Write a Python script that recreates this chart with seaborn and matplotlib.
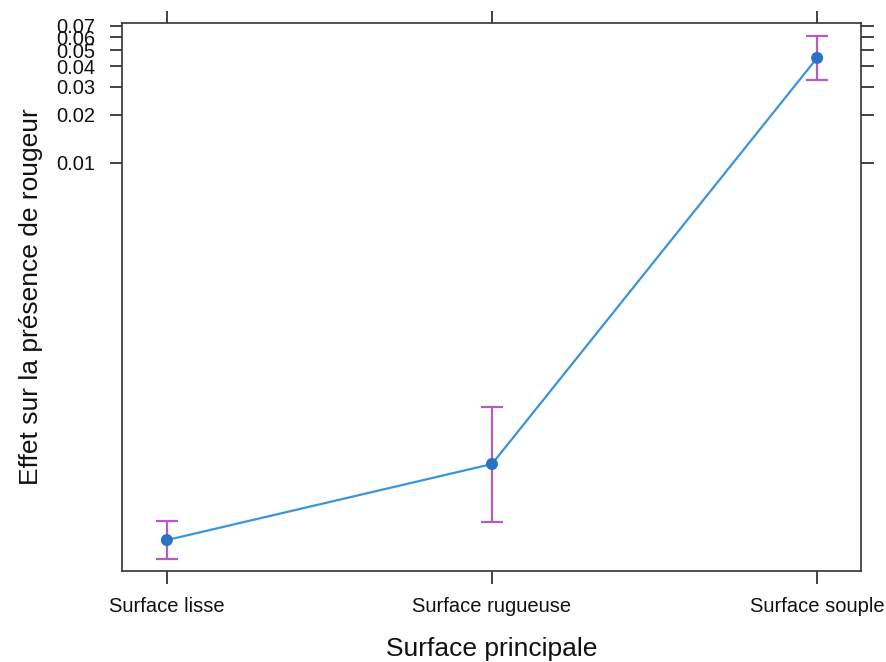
import matplotlib
matplotlib.use("Agg")
import matplotlib.pyplot as plt
import seaborn as sns
import pandas as pd
import numpy as np

surfaces = ["Surface lisse", "Surface rugueuse", "Surface souple"]
effet = [4.04e-5, 1.23e-4, 0.0449]
lower = [3.06e-5, 5.26e-5, 0.0329]
upper = [5.34e-5, 2.84e-4, 0.0609]
y_ticks = [0.01, 0.02, 0.03, 0.04, 0.05, 0.06, 0.07]
y_tick_labels = ["0.01", "0.02", "0.03", "0.04", "0.05", "0.06", "0.07"]

sns.set_style("ticks")
plt.rcParams["font.family"] = ["Liberation Sans", "DejaVu Sans"]

df = pd.DataFrame({"surface": surfaces, "effet": effet})
pos = np.arange(len(surfaces))

fig = plt.figure(figsize=(8.87, 6.62), dpi=100)
ax = fig.add_axes([0.1375, 0.1375, 0.8332, 0.8278])

# error bars first so the points sit on top
yerr = np.array([np.array(effet) - np.array(lower), np.array(upper) - np.array(effet)])
ax.errorbar(pos, effet, yerr=yerr, fmt="none",
            ecolor="#b45cc4", elinewidth=1.6, capsize=8, capthick=1.6, zorder=2)

sns.lineplot(data=df, x=pos, y="effet", color="#3b94dc",
             linewidth=1.6, ax=ax, zorder=3)
sns.scatterplot(data=df, x=pos, y="effet", color="#2a72c6",
                s=75, edgecolor="none", ax=ax, zorder=4)

ax.set_yscale("logit")
ax.set_ylim(2.57e-5, 0.0727)
ax.set_xlim(-0.138, 2.135)
ax.set_yticks(y_ticks)
ax.set_yticklabels(y_tick_labels)
ax.minorticks_off()
ax.set_xticks(range(len(surfaces)))
ax.set_xticklabels(surfaces)

ax.tick_params(axis="both", direction="out", length=9, width=1.2, color="#222222",
               top=True, right=True, labelsize=14.5, labelcolor="#111111")
ax.tick_params(axis="y", pad=10)
ax.tick_params(axis="x", pad=10)
for s in ax.spines.values():
    s.set_visible(True)
    s.set_linewidth(1.2)
    s.set_color("#333333")

ax.set_xlabel("Surface principale", fontsize=19, labelpad=15, color="#111111")
ax.set_ylabel("Effet sur la présence de rougeur", fontsize=19, labelpad=10, color="#111111")

fig.savefig("out.png", dpi=100)
